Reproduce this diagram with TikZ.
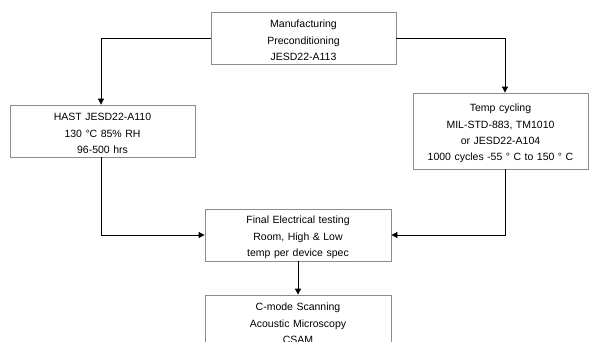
\documentclass[tikz,border=0pt]{standalone}
\usepackage{fontspec}
\setmainfont{Liberation Sans}
\usetikzlibrary{arrows.meta}
\begin{document}
\begin{tikzpicture}[x=1pt,y=-1pt,
  box/.style={draw=black!45, line width=0.8pt, fill=white, align=center, inner sep=0pt,
    font=\fontsize{10.5}{16.3}\selectfont, text width=#1,
    execute at begin node={\rule{0pt}{12.5pt}}},
  conn/.style={draw=black, line width=0.8pt, -{Triangle[width=6pt,length=6pt]}}]
\useasboundingbox (0,0) rectangle (589,341);
\clip (0,0) rectangle (589,341);
\node[box=185pt, minimum width=185pt, minimum height=52pt] (top) at (303.5,38) {Manufacturing\\Preconditioning\\JESD22-A113};
\node[box=185pt, minimum width=185pt, minimum height=52pt] (hast) at (102.5,131) {HAST JESD22-A110\\130 °C 85\% RH\\96-500 hrs};
\node[box=175pt, minimum width=175pt, minimum height=76pt] (temp) at (500.5,131) {Temp cycling\\MIL-STD-883, TM1010\\or JESD22-A104\\1000 cycles -55 ° C to 150 ° C};
\node[box=186pt, minimum width=186pt, minimum height=52pt] (final) at (298,235) {Final Electrical testing\\Room, High \& Low\\temp per device spec};
\node[box=186pt, minimum width=186pt, minimum height=52pt] (csam) at (298,321) {C-mode Scanning\\Acoustic Microscopy\\CSAM};
\coordinate (lc) at (101,38);
\coordinate (rc) at (505,38);
\coordinate (lb) at (101,235);
\coordinate (rb) at (505,235);
\draw[conn] (top.west) -- (lc) -- (lc |- hast.north);
\draw[conn] (top.east) -- (rc) -- (rc |- temp.north);
\draw[conn] (lc |- hast.south) -- (lb) -- (final.west);
\draw[conn] (rc |- temp.south) -- (rb) -- (final.east);
\draw[conn] (final.south) -- (csam.north);
\end{tikzpicture}
\end{document}
